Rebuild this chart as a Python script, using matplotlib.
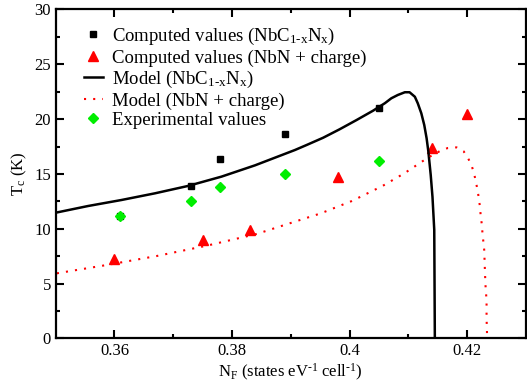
import matplotlib
matplotlib.use("Agg")
import matplotlib.pyplot as plt

plt.rcParams['font.family'] = ['Liberation Serif', 'DejaVu Serif']
plt.rcParams['mathtext.fontset'] = 'custom'
plt.rcParams['mathtext.rm'] = 'Liberation Serif'
plt.rcParams['mathtext.it'] = 'Liberation Serif:italic'

# --- data ---
nbcn_x = [0.361, 0.373, 0.378, 0.389, 0.405]
nbcn_tc = [11.2, 13.9, 16.4, 18.6, 21.0]

nbn_x = [0.360, 0.375, 0.383, 0.398, 0.414, 0.420]
nbn_tc = [7.2, 9.0, 9.9, 14.7, 17.4, 20.5]

exp_x = [0.361, 0.373, 0.378, 0.389, 0.405]
exp_tc = [11.2, 12.5, 13.8, 15.0, 16.2]

model_nbcn_x = [0.3500, 0.3555, 0.3612, 0.3669, 0.3725, 0.3782, 0.3839, 0.3907,
                0.3927, 0.3955, 0.3983, 0.4012, 0.4040, 0.4060, 0.4071, 0.4082,
                0.4094, 0.4102, 0.4111, 0.4116, 0.4122, 0.4127, 0.4131, 0.4134,
                0.4138, 0.4141, 0.4144, 0.4145]
model_nbcn_tc = [11.46, 12.07, 12.62, 13.23, 13.90, 14.75, 15.78, 17.18,
                 17.64, 18.30, 19.07, 19.92, 20.77, 21.45, 21.90, 22.20,
                 22.45, 22.45, 22.04, 21.44, 20.53, 19.46, 18.25, 17.03,
                 14.90, 12.90, 9.90, 0.0]

model_nbn_x = [0.3502, 0.3587, 0.3672, 0.3757, 0.3842, 0.3898, 0.3951, 0.4004,
               0.4056, 0.4093, 0.4129, 0.4141, 0.4155, 0.4167, 0.4182, 0.4194,
               0.4202, 0.4208, 0.4212, 0.4215, 0.4218, 0.4220, 0.4222, 0.4223,
               0.4225, 0.4226, 0.4229, 0.4230, 0.4231, 0.4233, 0.4233, 0.4234]
model_nbn_tc = [5.93, 6.69, 7.51, 8.45, 9.52, 10.49, 11.40, 12.53,
                13.90, 15.05, 16.33, 16.72, 17.12, 17.36, 17.42, 17.06,
                16.39, 15.69, 14.99, 14.23, 13.44, 12.68, 11.92, 11.16,
                10.37, 9.61, 8.06, 6.50, 4.98, 3.43, 1.88, 0.0]

fig = plt.figure(figsize=(5.27, 3.83), dpi=100)
ax = fig.add_axes([0.1057, 0.1167, 0.8923, 0.8585])

sub = '$_{\\mathrm{1\\text{-}x}}$N$_{\\mathrm{x}}$'
ax.plot(nbcn_x, nbcn_tc, 's', color='black', ms=5, ls='none',
        label='Computed values (NbC' + sub + ')')
ax.plot(nbn_x, nbn_tc, '^', color='red', ms=7, ls='none',
        label='Computed values (NbN + charge)')
ax.plot(model_nbcn_x, model_nbcn_tc, '-', color='black', lw=1.8,
        label='Model (NbC' + sub + ')')
ax.plot(model_nbn_x, model_nbn_tc, color='red', lw=1.5, ls=(0, (1, 3.4)),
        label='Model (NbN + charge)')
ax.plot(exp_x, exp_tc, 'D', color='#00ee00', ms=5.5, ls='none',
        label='Experimental values')

ax.set_xlim(0.35, 0.43)
ax.set_ylim(0, 30)
ax.set_xticks([0.36, 0.38, 0.40, 0.42])
ax.set_xticklabels(['0.36', '0.38', '0.4', '0.42'])
ax.set_xticks([0.37, 0.39, 0.41], minor=True)
ax.set_yticks([0, 5, 10, 15, 20, 25, 30])
ax.set_yticks([2.5, 7.5, 12.5, 17.5, 22.5, 27.5], minor=True)
ax.tick_params(which='both', direction='in', top=True, right=True, width=1.5,
               labelsize=12)
ax.tick_params(which='major', length=6)
ax.tick_params(which='minor', length=3)
for s in ax.spines.values():
    s.set_linewidth(1.6)

ax.set_xlabel('N$_{\\mathrm{F}}$ (states eV$^{\\mathrm{\\text{-}1}}$ cell$^{\\mathrm{\\text{-}1}}$)',
              fontsize=12, labelpad=2)
ax.set_ylabel('T$_{\\mathrm{c}}$ (K)', fontsize=12, labelpad=4)

ax.legend(loc='upper left', bbox_to_anchor=(0.06, 0.95), frameon=False,
          fontsize=13.5, handlelength=1.0, handletextpad=0.5,
          labelspacing=0.12, borderpad=0, borderaxespad=0)

fig.savefig('out.png', dpi=100)
